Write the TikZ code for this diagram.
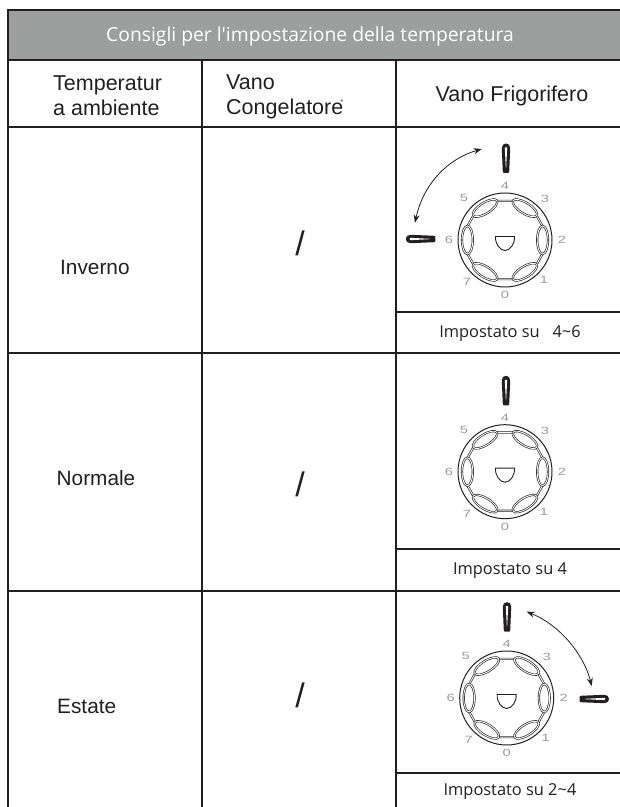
\documentclass[tikz,border=0pt]{standalone}
\usepackage{fontspec}
\usetikzlibrary{arrows.meta}
\setmainfont{Liberation Sans}
\newfontfamily\myr{Open Sans}
\definecolor{ink}{HTML}{231F20}
\definecolor{head}{HTML}{9D9F9E}
\definecolor{numgray}{HTML}{9A9A9A}
\tikzset{
  grid line/.style={draw=ink,line width=2pt,line cap=butt},
  thin grid/.style={draw=ink,line width=1.6pt},
  arial/.style={font=\fontsize{21.5}{25}\selectfont,text=ink,inner sep=0pt,anchor=base west,align=left},
  rowhead/.style={arial,font=\fontsize{20.8}{25}\selectfont},
  note/.style={font=\myr\fontsize{16.4}{18}\selectfont,text=ink,inner sep=0pt,anchor=base},
  slash/.style={font=\fontsize{34}{34}\selectfont,text=ink,inner sep=0pt,anchor=center},
  digit/.style={font=\fontsize{10.5}{10}\selectfont,text=numgray,inner sep=0pt,anchor=center},
  swing/.style={draw=ink,line width=.8pt,{Stealth[length=8pt,width=6pt]}-{Stealth[length=8pt,width=6pt]}},
  knobbody/.pic={
    \fill[ink] (-2.2,-15) .. controls (-3.2,-15) and (-3.4,-13.5) .. (-3.3,-12)
      -- (-4.2,10) .. controls (-4.4,16) and (4.4,16) .. (4.2,10)
      -- (3.3,-12) .. controls (3.4,-13.5) and (3.2,-15) .. (2.2,-15) -- cycle;
    \fill[white] (-1.2,10.5) -- (1.2,10.5) -- (0.15,-10) -- (-0.15,-10) -- cycle;
  },
  dialbody/.pic={
    \draw[ink,line width=1pt] (0,0) circle (47);
    \draw[ink,line width=.65pt,double=white,double distance=.9pt]
      (20:40) -- (38:40) -- (78:40) -- (102:40) -- (142:40) -- (160:40)
      -- (200:40) -- (218:40) -- (258:40) -- (282:40) -- (322:40) -- (340:40) -- cycle;
    \foreach \a in {0,58,122,180,238,302}{
      \draw[ink,line width=.65pt,double=white,double distance=.9pt,fill=white]
        (\a:37.6) ellipse [x radius=5.4,y radius=14,rotate=\a];
    }
    \draw[ink,line width=.9pt,fill=white] (-9.5,3.5) -- (9.5,3.5)
      .. controls (10,-4) and (5,-10.5) .. (0,-10.5)
      .. controls (-5,-10.5) and (-10,-4) .. (-9.5,3.5) -- cycle;
    \node[digit] (-dfour) at (0,54) {\scalebox{1.4}[1]{4}};
    \node[digit] (-dthree) at (40,41) {\scalebox{1.4}[1]{3}};
    \node[digit] (-dfive) at (-41,42) {\scalebox{1.4}[1]{5}};
    \node[digit] (-dsix) at (-56,0) {\scalebox{1.4}[1]{6}};
    \node[digit] (-dtwo) at (57,0) {\scalebox{1.4}[1]{2}};
    \node[digit] (-dseven) at (-38,-42) {\scalebox{1.4}[1]{7}};
    \node[digit] (-done) at (39,-40) {\scalebox{1.4}[1]{1}};
    \node[digit] (-dzero) at (0,-55) {\scalebox{1.4}[1]{0}};
  }
}
\begin{document}
\begin{tikzpicture}[x=1pt,y=1pt]
\useasboundingbox (0,0) rectangle (620,807);
% header band
\fill[head] (8,797) rectangle (620,747);
% grid
\path[grid line] (7,797) -- (620,797);
\path[grid line] (8,798) -- (8,0);
\path[grid line] (8,747) -- (620,747);
\path[grid line] (8,679.5) -- (620,679.5);
\path[grid line] (8,454) -- (620,454);
\path[grid line] (8,216.3) -- (620,216.3);
\path[grid line] (202,747) -- (202,0);
\path[grid line] (396,747) -- (396,0);
\path[thin grid] (396,495) -- (620,495);
\path[thin grid] (396,258) -- (620,258);
\path[thin grid] (396,34) -- (620,34);
% title
\node[font=\myr\fontsize{19.3}{22}\selectfont,text=white,inner sep=0pt,anchor=base] (title) at (310,765) {Consigli per l'impostazione della temperatura};
% column heads
\node[arial] (tempa) at (53,716.3) {Temperatur};
\node[arial] (tempb) at (53,691.3) {a ambiente};
\node[arial] (vanoa) at (226,717) {Vano};
\node[arial] (vanob) at (226,692) {Congelatore};
\node[font=\fontsize{7}{7}\selectfont,text=ink,inner sep=0pt] (star) at (342,705) {*};
\node[arial,anchor=base] (frigo) at (512,705.3) {Vano Frigorifero};
% row heads
\node[rowhead] (inverno) at (60,532) {Inverno};
\node[rowhead] (normale) at (56.5,321) {Normale};
\node[rowhead] (estate) at (57,93) {Estate};
% slashes
\node[slash] (sa) at (300,564) {/};
\node[slash] (sb) at (300,323) {/};
\node[slash] (sc) at (300,112) {/};
% dials
\pic (da) at (505,567) {dialbody};
\pic (db) at (505,335.3) {dialbody};
\pic (dc) at (506.7,109) {dialbody};
% knobs
\pic at (506,649) {knobbody};
\pic[rotate=90] at (420.3,568) {knobbody};
\pic at (506,416.7) {knobbody};
\pic at (507,190.3) {knobbody};
\pic[rotate=-90] at (594.5,108) {knobbody};
% swing arrows
\coordinate (a1) at (481.7,658);
\coordinate (a2) at (415,584.3);
\coordinate (b1) at (526.7,195.3);
\coordinate (b2) at (591.7,121);
\draw[swing] (a1) .. controls (447,648) and (423,622) .. (a2);
\draw[swing] (b1) .. controls (560,182) and (584,152) .. (b2);
% notes
\node[note] (na) at (510,469) {Impostato su\ \ \ 4\textasciitilde 6};
\node[note] (nb) at (510,232) {Impostato su 4};
\node[note] (nc) at (510,11) {Impostato su 2\textasciitilde 4};
\end{tikzpicture}
\end{document}
